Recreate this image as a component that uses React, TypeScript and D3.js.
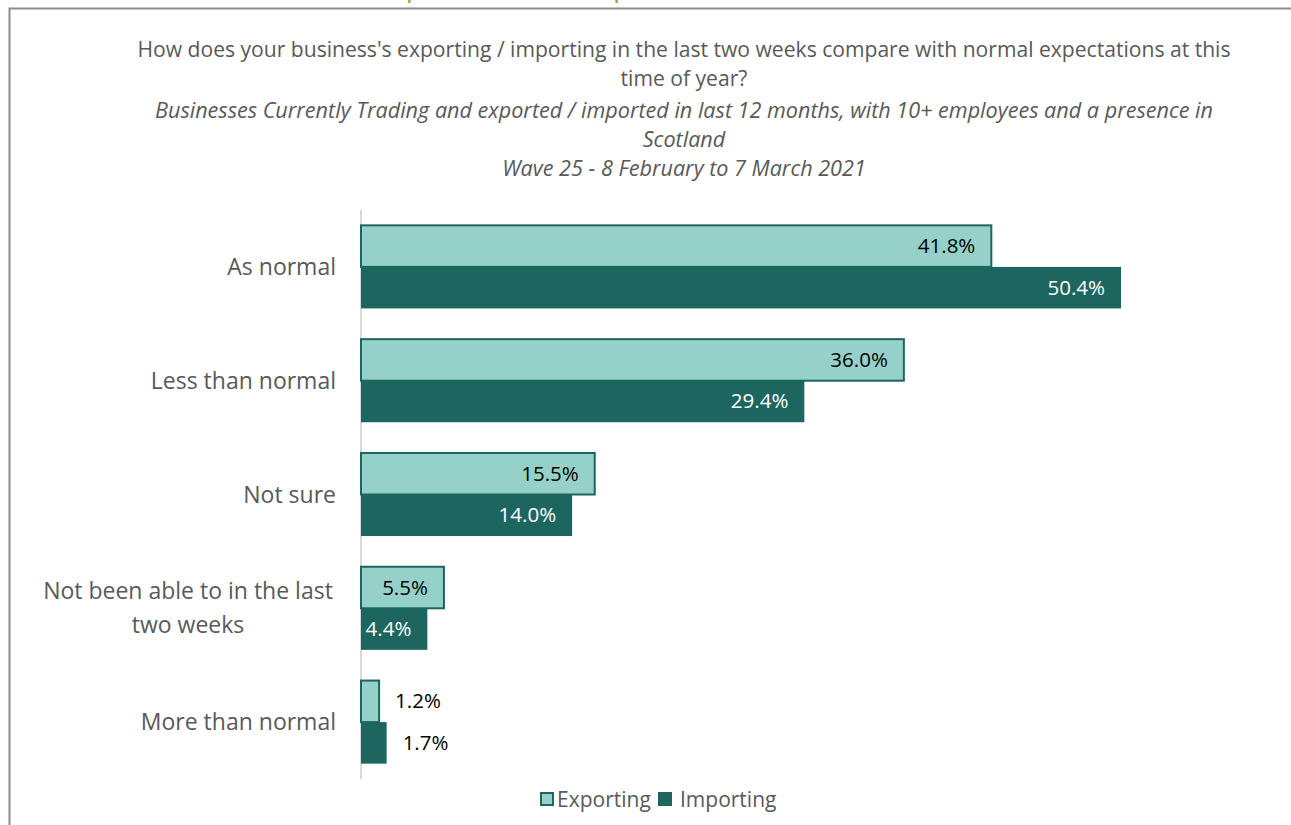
import * as d3 from "d3";

const categories = [
  "As normal",
  "Less than normal",
  "Not sure",
  "Not been able to in the last two weeks",
  "More than normal",
];
const categoryLines = [
  ["As normal"],
  ["Less than normal"],
  ["Not sure"],
  ["Not been able to in the last", "two weeks"],
  ["More than normal"],
];
const seriesNames = ["Exporting", "Importing"];
const exporting = [41.8, 36.0, 15.5, 5.5, 1.2];
const importing = [50.4, 29.4, 14.0, 4.4, 1.7];

const titleLines = [
  "How does your business's exporting / importing in the last two weeks compare with normal expectations at this",
  "time of year?",
];
const subtitleLines = [
  "Businesses Currently Trading and exported / imported in last 12 months, with 10+ employees and a presence in",
  "Scotland",
  "Wave 25 - 8 February to 7 March 2021",
];
const headline = "Some have not been able to import in the latest period";

const W = 1291;
const H = 825;
const FONT = "'Open Sans', sans-serif";
const GREY = "#595959";
const LIGHT = "#96d1c9";
const DARK = "#1c665f";

export default function App() {
  const x = d3.scaleLinear().domain([0, 50.4]).range([361, 1121]);
  const y = d3.scaleBand<string>().domain(categories).range([210, 779]).paddingInner(0.27).paddingOuter(0.135);
  const inner = d3.scaleBand<string>().domain(seriesNames).range([0, y.bandwidth()]);
  const data = categories.map((c, i) => ({ cat: c, lines: categoryLines[i], values: [exporting[i], importing[i]] }));

  return (
    <div style={{ position: "fixed", left: 0, top: 0 }}>
      <svg width={W} height={H} style={{ display: "block", background: "#fff" }} fontFamily={FONT}>
        {/* cut-off headline from the slide */}
        <text x={30} y={-3} fontSize={26} fill="#70ad47">{headline}</text>
        {/* chart frame */}
        <path d={`M${W + 2},8.5 H9.5 V${H + 2}`} fill="none" stroke="#8c8c8c" strokeWidth={2} />

        {titleLines.map((t, i) => (
          <text key={t} x={684} y={57 + i * 29} textAnchor="middle" fontSize={21.1} fill={GREY}>{t}</text>
        ))}
        {subtitleLines.map((t, i) => (
          <text key={t} x={684} y={118 + i * 29} textAnchor="middle" fontSize={21.6} fontStyle="italic" fill={GREY}>{t}</text>
        ))}

        {/* axis */}
        <line x1={361} x2={361} y1={y.range()[0]} y2={y.range()[1]} stroke="#d9d9d9" strokeWidth={2} />

        {data.map((d) => {
          const y0 = y(d.cat)!;
          const cy = y0 + y.bandwidth() / 2;
          return (
            <g key={d.cat}>
              {d.lines.map((ln, j) => (
                <text
                  key={ln}
                  x={d.lines.length > 1 ? 188 : 336}
                  y={cy + 8 + (j - (d.lines.length - 1) / 2) * 34}
                  textAnchor={d.lines.length > 1 ? "middle" : "end"}
                  fontSize={23}
                  fill={GREY}
                >
                  {ln}
                </text>
              ))}
              {d.values.map((v, k) => {
                const by = y0 + inner(seriesNames[k])!;
                const bh = inner.bandwidth();
                const xe = x(v);
                const inside = v > 3;
                return (
                  <g key={k}>
                    <rect
                      x={x(0)}
                      y={by}
                      width={xe - x(0)}
                      height={bh}
                      fill={k === 0 ? LIGHT : DARK}
                      stroke={DARK}
                      strokeWidth={k === 0 ? 2 : 0}
                    />
                    <text
                      x={inside ? xe - 16 : xe + 16}
                      y={by + bh / 2 + 7}
                      textAnchor={inside ? "end" : "start"}
                      fontSize={20.5}
                      fill={inside && k === 1 ? "#fff" : "#000"}
                    >
                      {v.toFixed(1)}%
                    </text>
                  </g>
                );
              })}
            </g>
          );
        })}

        {/* legend */}
        <g fontSize={21} fill={GREY}>
          <rect x={541} y={793} width={12} height={12} fill={LIGHT} stroke={DARK} strokeWidth={2} />
          <text x={557} y={807}>Exporting</text>
          <rect x={658} y={792} width={14} height={14} fill={DARK} />
          <text x={680} y={807}>Importing</text>
        </g>
      </svg>
    </div>
  );
}
